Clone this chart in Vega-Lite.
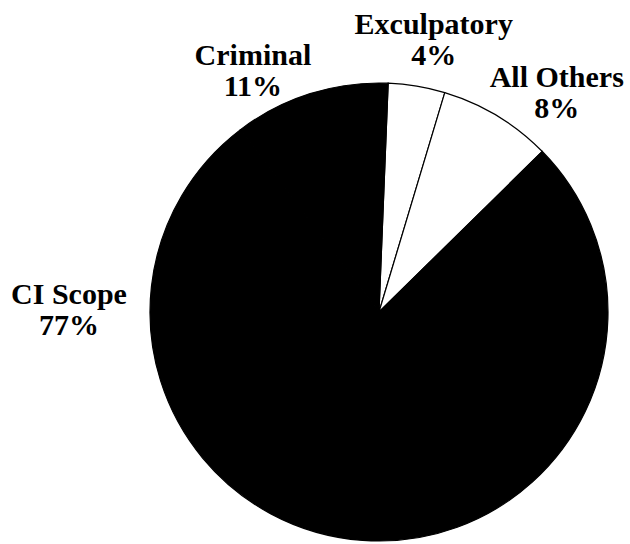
{
  "$schema": "https://vega.github.io/schema/vega-lite/v6.json",
  "width": 458,
  "height": 458,
  "autosize": {"type": "none"},
  "padding": {"left": 150, "top": 83, "right": 22, "bottom": 3},
  "background": "#ffffff",
  "data": {
    "values": [
      {"category": "Exculpatory", "value": 4, "seq": 1},
      {"category": "All Others", "value": 8, "seq": 2},
      {"category": "CI Scope", "value": 77, "seq": 3},
      {"category": "Criminal", "value": 11, "seq": 4}
    ]
  },
  "transform": [
    {"calculate": "[datum.category, datum.value + '%']", "as": "label"}
  ],
  "layer": [
    {
      "mark": {"type": "arc", "stroke": "#000000", "strokeWidth": 1.2, "outerRadius": 229},
      "encoding": {
        "theta": {"field": "value", "type": "quantitative", "stack": true, "scale": {"range": [0.04, 6.3232]}},
        "order": {"field": "seq", "type": "quantitative"},
        "color": {
          "field": "category",
          "type": "nominal",
          "scale": {"domain": ["Exculpatory", "All Others", "CI Scope", "Criminal"], "range": ["#ffffff", "#ffffff", "#000000", "#000000"]},
          "legend": null
        }
      }
    },
    {
      "transform": [{"filter": "datum.category === 'Criminal'"}],
      "mark": {"type": "text", "theta": -0.482, "radius": 272, "font": "Liberation Serif, Times New Roman, serif", "fontWeight": "bold", "fontSize": 30, "lineHeight": 31, "dy": -15},
      "encoding": {"text": {"field": "label"}}
    },
    {
      "transform": [{"filter": "datum.category === 'Exculpatory'"}],
      "mark": {"type": "text", "theta": 0.199, "radius": 277, "font": "Liberation Serif, Times New Roman, serif", "fontWeight": "bold", "fontSize": 30, "lineHeight": 31, "dy": -15},
      "encoding": {"text": {"field": "label"}}
    },
    {
      "transform": [{"filter": "datum.category === 'All Others'"}],
      "mark": {"type": "text", "theta": 0.682, "radius": 282, "font": "Liberation Serif, Times New Roman, serif", "fontWeight": "bold", "fontSize": 30, "lineHeight": 31, "dy": -15},
      "encoding": {"text": {"field": "label"}}
    },
    {
      "transform": [{"filter": "datum.category === 'CI Scope'"}],
      "mark": {"type": "text", "theta": -1.564, "radius": 310, "font": "Liberation Serif, Times New Roman, serif", "fontWeight": "bold", "fontSize": 30, "lineHeight": 31, "dy": -15},
      "encoding": {"text": {"field": "label"}}
    }
  ],
  "config": {
    "view": {"stroke": null},
    "text": {
      "align": "center",
      "baseline": "middle",
      "color": "#000000"
    }
  }
}
